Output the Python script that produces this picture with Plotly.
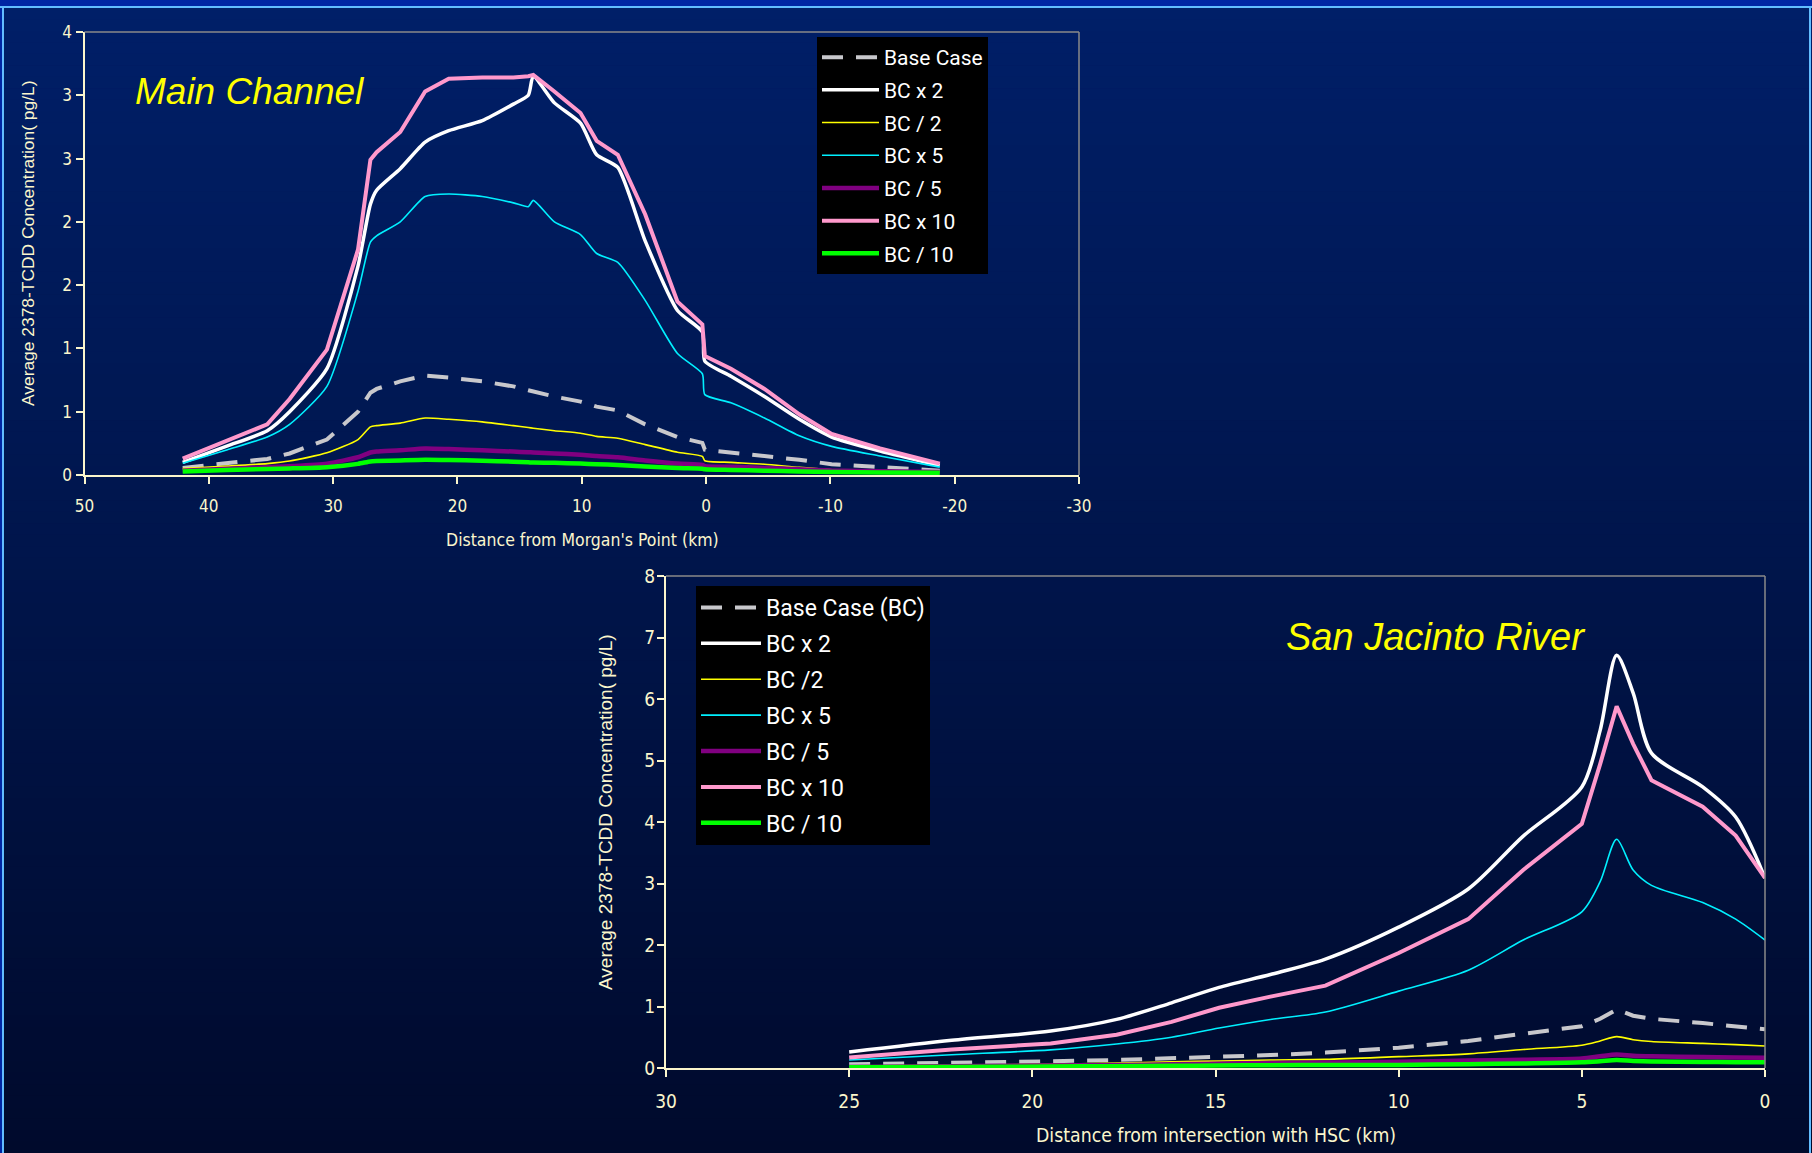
import plotly.graph_objects as go

W, H = 1812, 1153

# ---------------- Main Channel (top chart) ----------------
main_km = [42.1, 38.5, 35.3, 33.5, 30.5, 28.0, 27.0, 26.5, 24.6, 22.6, 20.7, 18.0, 15.5, 14.3, 13.9,
           12.2, 10.1, 8.8, 7.1, 4.9, 2.3, 0.3, 0.1, -2.0, -4.7, -7.5, -10.1, -14.0, -18.8]
main_base = [0.056, 0.095, 0.127, 0.17, 0.28, 0.50, 0.65, 0.68, 0.74, 0.785, 0.77, 0.74, 0.70, 0.67, 0.66,
             0.62, 0.58, 0.54, 0.51, 0.40, 0.30, 0.254, 0.20, 0.18, 0.147, 0.12, 0.085, 0.06, 0.034]
main_x2 = [0.10, 0.23, 0.35, 0.50, 0.84, 1.65, 2.14, 2.25, 2.42, 2.63, 2.72, 2.80, 2.93, 3.00, 3.15,
           2.94, 2.78, 2.53, 2.43, 1.85, 1.30, 1.13, 0.90, 0.78, 0.62, 0.44, 0.30, 0.19, 0.076]
main_half = [0.05, 0.07, 0.09, 0.11, 0.175, 0.28, 0.38, 0.39, 0.41, 0.45, 0.44, 0.42, 0.39, 0.375, 0.37,
             0.35, 0.33, 0.305, 0.29, 0.24, 0.18, 0.147, 0.113, 0.10, 0.085, 0.06, 0.042, 0.035, 0.028]
main_x5 = [0.093, 0.20, 0.30, 0.40, 0.70, 1.45, 1.84, 1.89, 2.00, 2.20, 2.22, 2.20, 2.15, 2.12, 2.17,
           2.00, 1.90, 1.75, 1.68, 1.38, 0.96, 0.80, 0.635, 0.57, 0.45, 0.31, 0.226, 0.15, 0.062]
main_fifth = [0.034, 0.05, 0.062, 0.07, 0.09, 0.14, 0.178, 0.185, 0.195, 0.21, 0.205, 0.195, 0.185, 0.18, 0.178,
              0.17, 0.16, 0.15, 0.14, 0.115, 0.09, 0.079, 0.07, 0.065, 0.056, 0.045, 0.035, 0.03, 0.023]
main_x10 = [0.13, 0.27, 0.40, 0.60, 0.99, 1.78, 2.49, 2.55, 2.71, 3.03, 3.13, 3.14, 3.14, 3.15, 3.16,
            3.03, 2.86, 2.64, 2.53, 2.06, 1.37, 1.19, 0.94, 0.84, 0.68, 0.48, 0.325, 0.21, 0.09]
main_tenth = [0.028, 0.04, 0.048, 0.052, 0.062, 0.088, 0.107, 0.11, 0.115, 0.12, 0.118, 0.113, 0.105, 0.10, 0.098,
              0.096, 0.09, 0.085, 0.079, 0.068, 0.055, 0.05, 0.045, 0.04, 0.034, 0.028, 0.023, 0.02, 0.017]

main_names = ["Base Case", "BC x 2", "BC / 2", "BC x 5", "BC / 5", "BC x 10", "BC / 10"]
main_x_ticks = [50, 40, 30, 20, 10, 0, -10, -20, -30]
main_x_labels = ["50", "40", "30", "20", "10", "0", "-10", "-20", "-30"]
main_y_ticks = [0, 0.5, 1, 1.5, 2, 2.5, 3, 3.5]
main_y_labels = ["0", "1", "1", "2", "2", "3", "3", "4"]

# ---------------- San Jacinto River (bottom chart) ----------------
sjr_km = [25.0, 22.2, 19.5, 17.7, 16.2, 14.9, 13.5, 12.0, 10.0, 8.1, 6.6, 5.0, 4.5, 4.05, 3.6, 3.1, 1.7, 0.8, 0.0]
sjr_base = [0.06, 0.08, 0.11, 0.13, 0.154, 0.18, 0.21, 0.25, 0.33, 0.44, 0.55, 0.68, 0.80, 0.95, 0.85, 0.80, 0.73, 0.68, 0.63]
sjr_x2 = [0.26, 0.45, 0.60, 0.79, 1.06, 1.31, 1.52, 1.77, 2.29, 2.91, 3.77, 4.57, 5.49, 6.71, 6.10, 5.12, 4.57, 4.08, 3.09]
sjr_half = [0.03, 0.045, 0.06, 0.08, 0.10, 0.115, 0.13, 0.14, 0.185, 0.23, 0.30, 0.37, 0.44, 0.51, 0.46, 0.43, 0.40, 0.38, 0.357]
sjr_x5 = [0.13, 0.215, 0.295, 0.39, 0.50, 0.65, 0.79, 0.91, 1.25, 1.59, 2.08, 2.54, 3.03, 3.72, 3.22, 2.97, 2.69, 2.42, 2.08]
sjr_fifth = [0.018, 0.03, 0.04, 0.05, 0.06, 0.07, 0.08, 0.09, 0.10, 0.12, 0.135, 0.154, 0.19, 0.22, 0.20, 0.19, 0.18, 0.17, 0.166]
sjr_x10 = [0.17, 0.30, 0.40, 0.54, 0.75, 0.98, 1.16, 1.34, 1.87, 2.42, 3.22, 3.97, 4.94, 5.88, 5.27, 4.68, 4.25, 3.78, 3.09]
sjr_tenth = [0.012, 0.018, 0.024, 0.03, 0.035, 0.04, 0.045, 0.048, 0.05, 0.062, 0.074, 0.092, 0.11, 0.13, 0.115, 0.105, 0.098, 0.095, 0.092]

sjr_names = ["Base Case (BC)", "BC x 2", "BC /2", "BC x 5", "BC / 5", "BC x 10", "BC / 10"]
sjr_x_ticks = [30, 25, 20, 15, 10, 5, 0]
sjr_y_ticks = [0, 1, 2, 3, 4, 5, 6, 7, 8]

# ---------------- styles ----------------
CREAM = "#fbf6cc"
NARROW = "DejaVu Sans Condensed, Liberation Sans Narrow, Arial Narrow, sans-serif"
SANS = "Liberation Sans, Arial, sans-serif"
# (color, width, dash, shape)
styles = [
    ("#c8c8cc", 4.0, "21px,13px", "linear"),
    ("#ffffff", 3.5, "solid", "spline"),
    ("#ffff00", 1.6, "solid", "spline"),
    ("#00f0ff", 1.6, "solid", "spline"),
    ("#800080", 4.5, "solid", "spline"),
    ("#ff99cc", 4.0, "solid", "linear"),
    ("#00ff00", 4.5, "solid", "spline"),
]

fig = go.Figure()

main_series = [main_base, main_x2, main_half, main_x5, main_fifth, main_x10, main_tenth]
for i, (name, vals) in enumerate(zip(main_names, main_series)):
    c, w, d, s = styles[i]
    fig.add_trace(go.Scatter(x=main_km, y=vals, name=name, mode="lines",
                             line=dict(color=c, width=w, dash=d, shape=s, smoothing=0.6),
                             xaxis="x", yaxis="y", legend="legend", legendgroup="m%d" % i,
                             hoverinfo="skip"))

sjr_series = [sjr_base, sjr_x2, sjr_half, sjr_x5, sjr_fifth, sjr_x10, sjr_tenth]
for i, (name, vals) in enumerate(zip(sjr_names, sjr_series)):
    c, w, d, s = styles[i]
    fig.add_trace(go.Scatter(x=sjr_km, y=vals, name=name, mode="lines",
                             line=dict(color=c, width=w, dash=d, shape=s, smoothing=0.8),
                             xaxis="x2", yaxis="y2", legend="legend2", legendgroup="s%d" % i,
                             hoverinfo="skip"))

# plot-area geometry (pixels)
T = dict(l=84.5, r=1079, t=32, b=475)
B = dict(l=666, r=1765, t=576, b=1068)

def px_x(v):
    return v / W

def px_y(v):
    return 1 - v / H

axis_common = dict(showgrid=False, zeroline=False, showline=True, linecolor=CREAM, linewidth=2,
                   ticks="outside", tickcolor=CREAM, tickwidth=1.5, ticklen=7, automargin=False)

fig.update_layout(
    width=W, height=H, autosize=False,
    margin=dict(l=0, r=0, t=0, b=0, pad=0, autoexpand=False),
    paper_bgcolor="#001550", plot_bgcolor="rgba(0,0,0,0)",
    showlegend=True,
    xaxis=dict(domain=[px_x(T["l"]), px_x(T["r"])], range=[50, -30], tickvals=main_x_ticks,
               ticktext=main_x_labels,
               tickfont=dict(family=NARROW, size=17, color=CREAM), anchor="y",
               ticklabelstandoff=8, **axis_common),
    yaxis=dict(domain=[px_y(T["b"]), px_y(T["t"])], range=[0, 3.5], tickvals=main_y_ticks,
               ticktext=main_y_labels, tickfont=dict(family=NARROW, size=17, color=CREAM),
               anchor="x", ticklabelstandoff=0, **axis_common),
    xaxis2=dict(domain=[px_x(B["l"]), px_x(B["r"])], range=[30, 0], tickvals=sjr_x_ticks,
                tickfont=dict(family=NARROW, size=19, color=CREAM), anchor="y2",
                ticklabelstandoff=8, **axis_common),
    yaxis2=dict(domain=[px_y(B["b"]), px_y(B["t"])], range=[0, 8], tickvals=sjr_y_ticks,
                tickfont=dict(family=NARROW, size=19, color=CREAM), anchor="x2",
                ticklabelstandoff=-2, **axis_common),
    legend=dict(x=px_x(817), y=px_y(37), xanchor="left", yanchor="top", bgcolor="black",
                borderwidth=0, font=dict(family="Roboto, Arial, sans-serif", size=21, color="white"),
                itemwidth=57, tracegroupgap=2.4, traceorder="grouped"),
    legend2=dict(x=px_x(696), y=px_y(586), xanchor="left", yanchor="top", bgcolor="black",
                 borderwidth=0, font=dict(family="Roboto, Arial, sans-serif", size=23, color="white"),
                 itemwidth=60, tracegroupgap=3, traceorder="grouped"),
)

# ---------------- background gradient and frame ----------------
shapes = []
n = 100
top_c = (0, 31, 104)
bot_c = (0, 10, 44)
y_start = 8
for i in range(n):
    ya = y_start + (H - y_start) * i / n
    yb = y_start + (H - y_start) * (i + 1) / n
    t = (i + 0.5) / n
    c = tuple(round(a + (b - a) * t) for a, b in zip(top_c, bot_c))
    shapes.append(dict(type="rect", xref="paper", yref="paper", x0=0, x1=1,
                       y0=px_y(yb + 0.6), y1=px_y(ya), fillcolor="rgb(%d,%d,%d)" % c,
                       line=dict(width=0), layer="below"))
shapes.append(dict(type="rect", xref="paper", yref="paper", x0=0, x1=1, y0=px_y(6), y1=1,
                   fillcolor="#0026a3", line=dict(width=0), layer="below"))
shapes.append(dict(type="rect", xref="paper", yref="paper", x0=0, x1=px_x(2), y0=0, y1=1,
                   fillcolor="#0026a3", line=dict(width=0), layer="below"))
for (x0, y0, x1, y1) in [(0, 7, W, 7), (3, 7, 3, H), (1810, 7, 1810, H)]:
    shapes.append(dict(type="line", xref="paper", yref="paper", x0=px_x(x0), y0=px_y(y0),
                       x1=px_x(x1), y1=px_y(y1), line=dict(color="#62bdff", width=2), layer="below"))
# grey plot-area border (top and right)
for P in (T, B):
    shapes.append(dict(type="line", xref="paper", yref="paper", x0=px_x(P["l"]), y0=px_y(P["t"]),
                       x1=px_x(P["r"]), y1=px_y(P["t"]), line=dict(color="#8a8a8a", width=1.5)))
    shapes.append(dict(type="line", xref="paper", yref="paper", x0=px_x(P["r"]), y0=px_y(P["t"]),
                       x1=px_x(P["r"]), y1=px_y(P["b"]), line=dict(color="#8a8a8a", width=1.5)))
fig.update_layout(shapes=shapes)

# ---------------- text ----------------
ann = [
    dict(text="<i>Main Channel</i>", x=px_x(250), y=px_y(92), font=dict(family=SANS, size=37, color="#ffff00")),
    dict(text="<i>San Jacinto River</i>", x=px_x(1435), y=px_y(637), font=dict(family=SANS, size=38, color="#ffff00")),
    dict(text="Distance from Morgan's Point (km)", x=px_x(582), y=px_y(540), font=dict(family=NARROW, size=17.5, color=CREAM)),
    dict(text="Distance from intersection with HSC (km)", x=px_x(1216), y=px_y(1135), font=dict(family=NARROW, size=19.3, color=CREAM)),
    dict(text="Average 2378-TCDD Concentration( pg/L)", x=px_x(28), y=px_y(244), textangle=-90,
         font=dict(family=SANS, size=17.4, color=CREAM)),
    dict(text="Average 2378-TCDD Concentration( pg/L)", x=px_x(605), y=px_y(812), textangle=-90,
         font=dict(family=SANS, size=19, color=CREAM)),
]
for a in ann:
    a.update(xref="paper", yref="paper", showarrow=False, xanchor="center", yanchor="middle")
fig.update_layout(annotations=ann)

fig.write_html("out.html", config={"displayModeBar": False},
               post_script="document.body.style.margin='0';document.body.style.padding='0';"
                           "document.documentElement.style.overflow='hidden';")
